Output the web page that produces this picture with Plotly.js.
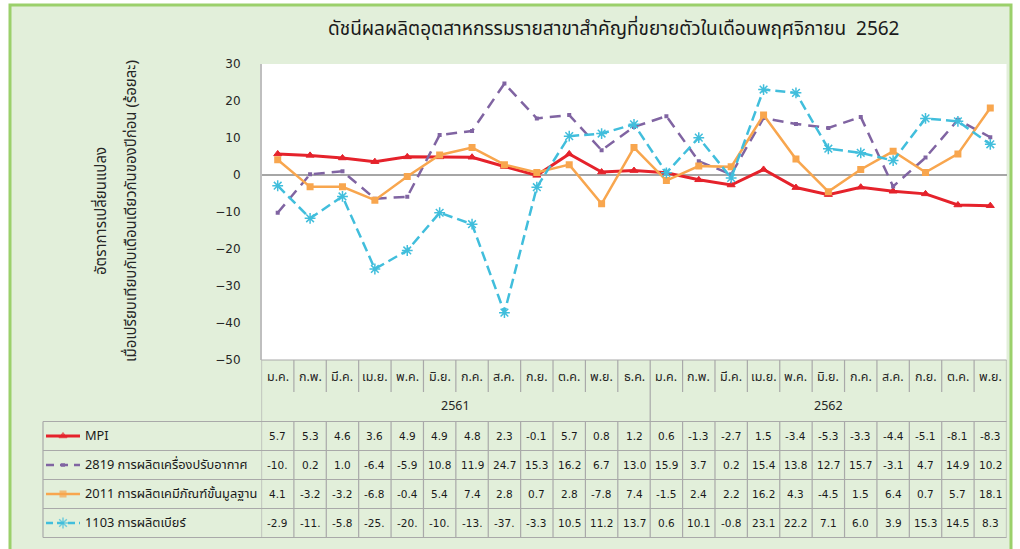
<!DOCTYPE html>
<html><head><meta charset="utf-8">
<script src="https://cdn.plot.ly/plotly-3.0.1.min.js"></script>
<style>html,body{margin:0;padding:0;background:#fff}</style>
</head><body><div id="chart" style="width:1020px;height:549px"></div>
<script>
var titleText = 'ดัชนีผลผลิตอุตสาหกรรมรายสาขาสำคัญที่ขยายตัวในเดือนพฤศจิกายน  2562';
var yTitle1 = 'อัตราการเปลี่ยนแปลง';
var yTitle2 = 'เมื่อเปรียบเทียบกับเดือนเดียวกันของปีก่อน (ร้อยละ)';
var months = ['ม.ค.','ก.พ.','มี.ค.','เม.ย.','พ.ค.','มิ.ย.','ก.ค.','ส.ค.','ก.ย.','ต.ค.','พ.ย.','ธ.ค.',
              'ม.ค.','ก.พ.','มี.ค.','เม.ย.','พ.ค.','มิ.ย.','ก.ค.','ส.ค.','ก.ย.','ต.ค.','พ.ย.'];
var years = ['2561','2562'];
var yearCounts = [12, 11];
var seriesNames = ['MPI','2819 การผลิตเครื่องปรับอากาศ','2011 การผลิตเคมีภัณฑ์ขั้นมูลฐาน','1103 การผลิตเบียร์'];
var mpi  = [5.7,5.3,4.6,3.6,4.9,4.9,4.8,2.3,-0.1,5.7,0.8,1.2,0.6,-1.3,-2.7,1.5,-3.4,-5.3,-3.3,-4.4,-5.1,-8.1,-8.3];
var air  = [-10.2,0.2,1.0,-6.4,-5.9,10.8,11.9,24.7,15.3,16.2,6.7,13.0,15.9,3.7,0.2,15.4,13.8,12.7,15.7,-3.1,4.7,14.9,10.2];
var chem = [4.1,-3.2,-3.2,-6.8,-0.4,5.4,7.4,2.8,0.7,2.8,-7.8,7.4,-1.5,2.4,2.2,16.2,4.3,-4.5,1.5,6.4,0.7,5.7,18.1];
var beer = [-2.9,-11.7,-5.8,-25.4,-20.4,-10.2,-13.3,-37.2,-3.3,10.5,11.2,13.7,0.6,10.1,-0.8,23.1,22.2,7.1,6.0,3.9,15.3,14.5,8.3];
var yTicks = [-50,-40,-30,-20,-10,0,10,20,30];

var W = 1020, H = 549;
function px(x){ return x / W; }
function py(y){ return 1 - y / H; }
var thai = 'Tahoma, "Noto Sans Thai", "Noto Sans", "DejaVu Sans", sans-serif';
var num = '"DejaVu Sans", sans-serif';

var styles = [
  {color:'#E5222B', width:3, dash:'solid', symbol:'triangle-up', size:7, mline:{color:'#E5222B', width:1}},
  {color:'#8064A2', width:2.5, dash:'11px,7px', symbol:'square', size:4, mline:{color:'#8064A2', width:0}},
  {color:'#F8A64E', width:2.5, dash:'solid', symbol:'square', size:7, mline:{color:'#F8A64E', width:0}},
  {color:'#41BEDC', width:2.5, dash:'10px,5px', symbol:'asterisk-open', size:9, mline:{color:'#41BEDC', width:1.5}}
];
var data = [mpi, air, chem, beer];
var xs = months.map(function(_, i){ return i; });

var traces = [];
data.forEach(function(vals, s){
  var st = styles[s];
  traces.push({type:'scatter', mode:'lines+markers', x: xs, y: vals, name: seriesNames[s],
    line:{color:st.color, width:st.width, dash:st.dash},
    marker:{symbol:st.symbol, size:st.size, color:st.color, line:st.mline},
    showlegend:false, hoverinfo:'skip'});
});
data.forEach(function(vals, s){
  var st = styles[s];
  traces.push({type:'scatter', mode:'lines+markers', x:[0,0.5,1], y:[s,s,s], xaxis:'x2', yaxis:'y2',
    line:{color:st.color, width:st.width, dash: s===1 ? '8px,6px' : (s===3 ? '7px,4px' : 'solid')},
    marker:{symbol:st.symbol, size:[0, st.size, 0], color:st.color, line:st.mline},
    showlegend:false, hoverinfo:'skip'});
});

var shapes = [];
var grid = '#A9A9A9';
shapes.push({type:'rect', xref:'paper', yref:'paper', x0:px(10), x1:px(1011), y0:py(560), y1:py(5),
  fillcolor:'#E2EFDA', line:{color:'#9BD06B', width:3}, layer:'below'});
shapes.push({type:'rect', xref:'paper', yref:'paper', x0:px(261.5), x1:px(1006.5), y0:py(360), y1:py(64),
  fillcolor:'#FFFFFF', line:{width:0}, layer:'below'});
var rowTop = 421.5, rowH = 29;
var n = months.length;
for (var r = 0; r <= 4; r++) {
  shapes.push({type:'line', xref:'paper', yref:'paper', x0:px(43), x1:px(1006.5),
    y0:py(rowTop + r*rowH), y1:py(rowTop + r*rowH), line:{color:grid, width:1.2}});
}
shapes.push({type:'line', xref:'paper', yref:'paper', x0:px(43), x1:px(43), y0:py(rowTop), y1:py(rowTop+4*rowH), line:{color:grid, width:1.2}});
shapes.push({type:'line', xref:'paper', yref:'paper', x0:px(261.5), x1:px(1006.5), y0:py(360), y1:py(360), line:{color:grid, width:1.2}});
var yearBreaks = [0, yearCounts[0], n];
for (var k = 0; k <= n; k++) {
  if (yearBreaks.indexOf(k) >= 0) {
    shapes.push({type:'line', xref:'x', yref:'paper', x0:k-0.5, x1:k-0.5, y0:py(360), y1:py(rowTop+4*rowH), line:{color:grid, width:1.2}});
  } else {
    shapes.push({type:'line', xref:'x', yref:'paper', x0:k-0.5, x1:k-0.5, y0:py(360), y1:py(392), line:{color:grid, width:1.2}});
    shapes.push({type:'line', xref:'x', yref:'paper', x0:k-0.5, x1:k-0.5, y0:py(rowTop), y1:py(rowTop+4*rowH), line:{color:grid, width:1.2}});
  }
}

var ann = [];
function A(o){ o.showarrow = false; if(!o.xanchor) o.xanchor = 'center'; o.yanchor = 'middle'; ann.push(o); }
A({text:titleText, xref:'paper', yref:'paper', x:px(613), y:py(29), font:{family:thai, size:19, color:'#1a1a1a'}});
A({text:yTitle1, xref:'paper', yref:'paper', x:px(101), y:py(211), textangle:-90, font:{family:thai, size:15, color:'#262626'}});
A({text:yTitle2, xref:'paper', yref:'paper', x:px(131), y:py(211), textangle:-90, font:{family:thai, size:15, color:'#262626'}});
months.forEach(function(m, i){
  A({text:m, xref:'x', yref:'paper', x:i, y:py(377), font:{family:thai, size:12.5, color:'#262626'}});
});
var start = 0;
years.forEach(function(yv, j){
  var c = start + (yearCounts[j]-1)/2;
  A({text:yv, xref:'x', yref:'paper', x:c, y:py(406), font:{family:thai, size:12.5, color:'#262626'}});
  start += yearCounts[j];
});
function fmt(v){ var s = v.toFixed(1); return s.length > 4 ? s.slice(0,4) : s; }
data.forEach(function(vals, s){
  var yc = rowTop + rowH*s + rowH/2;
  A({text:seriesNames[s], xref:'paper', yref:'paper', x:px(83), y:py(yc), xanchor:'left', font:{family:thai, size:12.8, color:'#1a1a1a'}});
  vals.forEach(function(v, i){
    A({text:fmt(v), xref:'x', yref:'paper', x:i, y:py(yc), font:{family:num, size:10.5, color:'#1a1a1a'}});
  });
});

var layout = {
  width:W, height:H, margin:{l:0, r:0, t:0, b:0},
  paper_bgcolor:'#FFFFFF', plot_bgcolor:'rgba(0,0,0,0)',
  showlegend:false,
  xaxis:{domain:[px(261.5), px(1006.5)], range:[-0.5, n-0.5], showticklabels:false, showgrid:false,
    zeroline:false, showline:false, ticks:'', fixedrange:true},
  yaxis:{domain:[py(360), py(64)], range:[-50, 30], tickvals:yTicks, showgrid:false,
    zeroline:true, zerolinecolor:'#A6A6A6', zerolinewidth:1.5, showline:true, linecolor:'#BFBFBF', linewidth:1.5,
    ticks:'', ticklabelstandoff:17, tickfont:{family:num, size:12, color:'#262626'}, fixedrange:true},
  xaxis2:{domain:[px(46), px(80)], range:[0,1], visible:false, fixedrange:true},
  yaxis2:{domain:[py(rowTop+4*rowH), py(rowTop)], range:[3.5,-0.5], visible:false, fixedrange:true},
  shapes:shapes, annotations:ann
};
Plotly.newPlot('chart', traces, layout, {displayModeBar:false, staticPlot:true});
</script></body></html>
